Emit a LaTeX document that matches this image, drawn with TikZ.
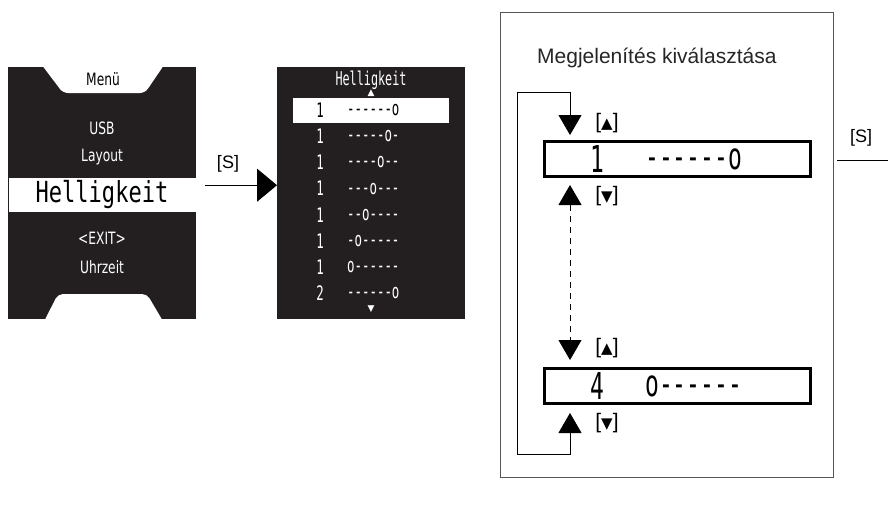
\documentclass[tikz,border=0pt]{standalone}
\usepackage{fontspec}
\setmainfont{Liberation Sans}
\newfontfamily\lcd[FakeStretch=0.72]{DejaVu Sans}
\newfontfamily\lcdm[FakeStretch=0.62]{DejaVu Sans Mono}
\newfontfamily\lcdw[FakeStretch=0.76]{DejaVu Sans Mono}
\newfontfamily\sym{DejaVu Sans}
\usetikzlibrary{arrows.meta}
\definecolor{scr}{HTML}{231F20}
\definecolor{framec}{HTML}{555555}
\tikzset{
  screen/.style={fill=scr, draw=none, minimum width=188pt, minimum height=252pt, inner sep=0pt, anchor=north west},
  lcds/.style={text=white, font=\lcd\fontsize{17}{19}\selectfont, inner sep=0pt},
  lcdrow/.style={text=white, font=\lcdm\fontsize{20}{22}\selectfont, inner sep=0pt},
  lcdbig/.style={font=\lcdm\fontsize{37}{39}\selectfont, inner sep=0pt},
  valbox/.style={draw=black, line width=3pt, fill=white, minimum width=266pt, minimum height=35pt, inner sep=0pt},
  lbl/.style={font=\fontsize{18}{21}\selectfont, inner sep=0pt},
  kl/.style={font=\fontsize{21}{24}\selectfont, inner sep=0pt},
  lp/.style={line width=0.8pt, {Triangle[width=23pt,length=20pt]}-{Triangle[width=23pt,length=20pt]}},
}
\newcommand{\tri}[1]{{\sym\fontsize{15}{17}\selectfont #1}}
\begin{document}
\begin{tikzpicture}[x=1pt,y=-1pt]
\useasboundingbox (0,0) rectangle (888,515);
% ---- screen 1 ----
\node[screen] (s1) at (8,67) {};
\fill[white] (43,66.5) [rounded corners=5pt] -- (63,93) -- (145,93) [sharp corners] -- (163,66.5) -- cycle;
\fill[white] (45,319.5) [rounded corners=5pt] -- (58,294) -- (147,294) [sharp corners] -- (162,319.5) -- cycle;
\node[lcds, text=black] (menu) at (103,79) {Menü};
\node[lcds] (usb) at (102,128) {USB};
\node[lcds] (lay) at (102,157) {Layout};
\node[fill=white, minimum width=187pt, minimum height=34pt, inner sep=0pt, font=\lcdw\fontsize{29}{31}\selectfont] (hl) at (102,195) {Helligkeit};
\node[lcds] (exit) at (102,238) {<EXIT>};
\node[lcds] (uhr) at (102,267) {Uhrzeit};
% ---- arrow ----
\node[screen] (s2) at (277,67) {};
\draw[line width=1pt, -{Triangle[width=33pt,length=20pt]}, shorten <=9pt] ([yshift=8pt]s1.east) -- ([yshift=8pt]s2.west);
\node[lbl] (sl) at (228,164) {[S]};
% ---- screen 2 ----
\node[lcdrow, font=\lcdm\fontsize{19}{21}\selectfont] (h2) at (371,80) {Helligkeit};
\node[text=white, font=\sym\fontsize{9}{10}\selectfont, inner sep=0pt] (up2) at (371,93) {▲};
\node[fill=white, minimum width=156pt, minimum height=25pt, inner sep=0pt] (band) at (371,110) {};
\foreach \i/\n/\s in {0/1/------o,1/1/-----o-,2/1/----o--,3/1/---o---,4/1/--o----,5/1/-o-----,6/1/o------,7/2/------o}{
  \pgfmathsetmacro{\yy}{110+26.2*\i}
  \ifnum\i=0
    \node[lcdrow, text=black] (n\i) at (320,\yy) {\n};
    \node[lcdrow, text=black, anchor=west] (d\i) at (347,\yy) {\s};
  \else
    \node[lcdrow] (n\i) at (320,\yy) {\n};
    \node[lcdrow, anchor=west] (d\i) at (347,\yy) {\s};
  \fi
}
\node[text=white, font=\sym\fontsize{9}{10}\selectfont, inner sep=0pt] (dn2) at (371,309) {▼};
% ---- right panel ----
\node[draw=framec, line width=0.9pt, minimum width=333pt, minimum height=465pt, inner sep=0pt, anchor=north west] (outer) at (500,12) {};
\node[font=\fontsize{21}{25}\selectfont, anchor=west, text=black!85, inner sep=0pt] (title) at (537,58) {Megjelenítés kiválasztása};
\node[valbox] (b1) at (677.5,159) {};
\node[lcdbig] (b1n) at (597,159) {1};
\node[lcdbig, anchor=west] (b1d) at (645,159) {------o};
\node[valbox] (b2) at (677.5,386) {};
\node[lcdbig] (b2n) at (597,386) {4};
\node[lcdbig, anchor=west] (b2d) at (645,386) {o------};
\coordinate (ax) at (570,0);
\coordinate (lbr) at (570,454);
\coordinate (lbl) at (517,454);
\coordinate (ltl) at (517,92);
\coordinate (ltr) at (570,92);
\draw[lp, dash pattern=on 6pt off 5pt, shorten <=7pt, shorten >=7pt] (b1.south -| ax) -- (b2.north -| ax);
\draw[lp, shorten <=8pt, shorten >=5pt] (b2.south -| ax) -- (lbr) -- (lbl) -- (ltl) -- (ltr) -- (b1.north -| ax);
\node[kl] (u1) at (607,123) {[\tri{▲}]};
\node[kl] (d1) at (607,196) {[\tri{▼}]};
\node[kl] (u2) at (607,348) {[\tri{▲}]};
\node[kl] (d2) at (607,423) {[\tri{▼}]};
\node[lbl] (sr) at (861,138) {[S]};
\coordinate (sra) at (837,160);
\coordinate (srb) at (888,160);
\draw[line width=0.8pt] (sra) -- (srb);
\end{tikzpicture}
\end{document}
